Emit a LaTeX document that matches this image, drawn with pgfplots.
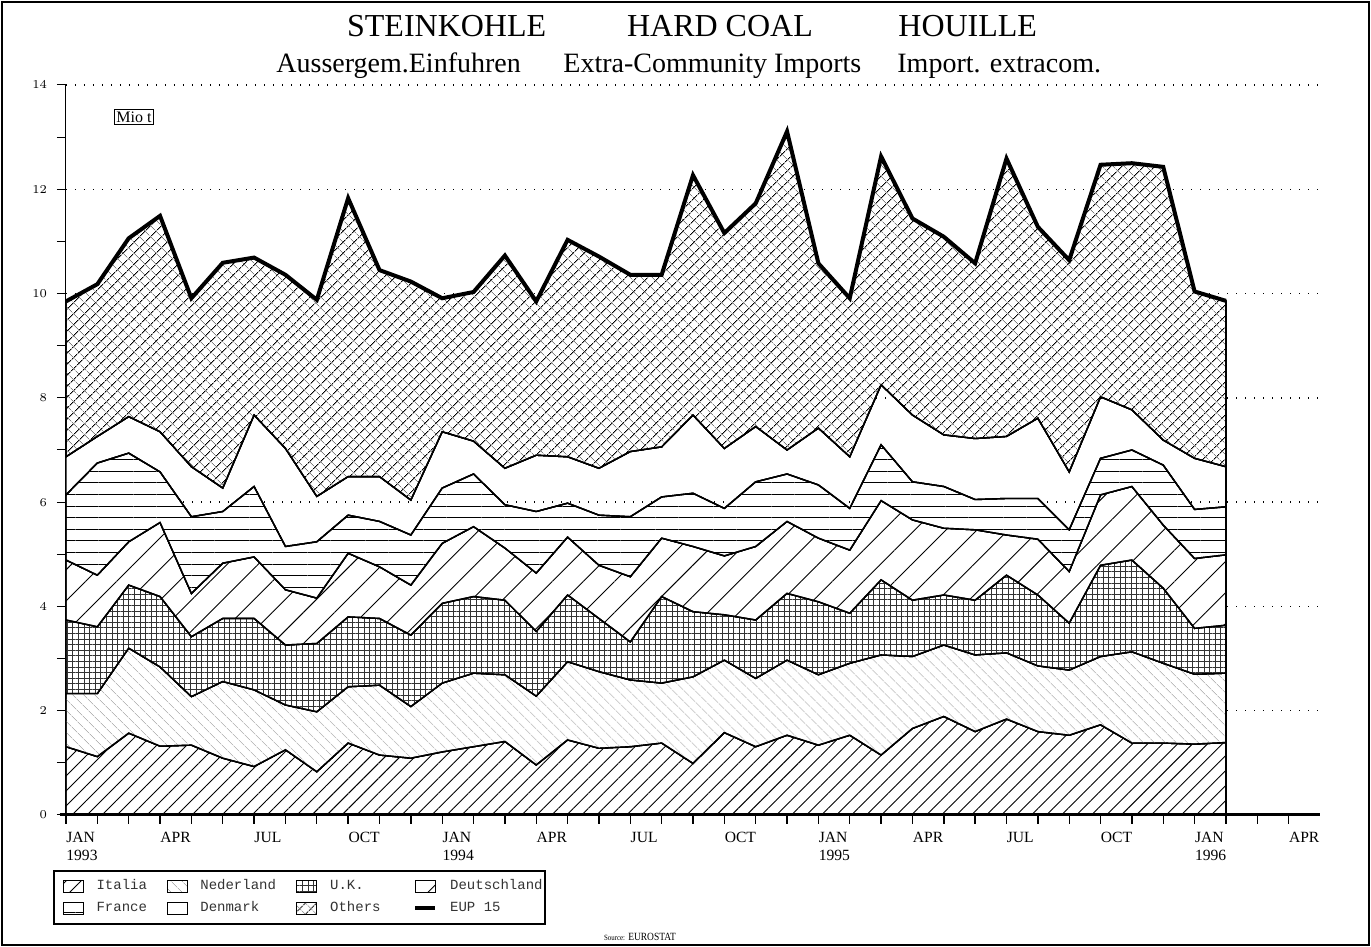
\documentclass[border=0pt]{standalone}
\usepackage{fontspec}
\setmainfont{Liberation Serif}
\newfontfamily\condserif[FakeStretch=0.86]{Liberation Serif}
\newfontfamily\legfont{Liberation Mono}
\usepackage{pgfplots}
\pgfplotsset{compat=1.18}
\usepackage{pgfplotstable}
\usetikzlibrary{patterns.meta}

% monthly values, Jan 1993 (0) ... Feb 1996 (37), Mio t
\pgfplotstableread{
x ita ned uk de fr dk oth tot
0 1.31 1.02 1.41 1.15 1.25 0.73 2.98 9.85
1 1.12 1.21 1.28 0.99 2.15 0.51 2.92 10.18
2 1.57 1.63 1.21 0.83 1.70 0.70 3.42 11.06
3 1.32 1.52 1.35 1.42 0.97 0.77 4.14 11.49
4 1.34 0.93 1.15 0.83 1.47 0.96 3.23 9.91
5 1.09 1.47 1.21 1.06 0.99 0.45 4.32 10.59
6 0.93 1.47 1.37 1.18 1.35 1.37 3.02 10.69
7 1.25 0.86 1.15 1.06 0.83 1.88 3.33 10.36
8 0.83 1.15 1.31 0.87 1.08 0.87 3.77 9.88
9 1.38 1.08 1.34 1.22 0.73 0.74 5.34 11.83
10 1.15 1.34 1.28 0.99 0.87 0.86 3.96 10.45
11 1.09 0.99 1.37 0.96 0.96 0.67 4.19 10.23
12 1.21 1.32 1.53 1.15 1.06 1.08 2.56 9.91
13 1.31 1.41 1.47 1.34 1.01 0.63 2.86 10.03
14 1.41 1.28 1.43 1.00 0.83 0.70 4.08 10.73
15 0.96 1.32 1.24 1.12 1.18 1.08 2.95 9.85
16 1.44 1.50 1.28 1.11 0.65 0.89 4.16 11.03
17 1.28 1.47 1.02 1.02 0.96 0.90 4.06 10.71
18 1.31 1.28 0.73 1.25 1.15 1.25 3.39 10.36
19 1.38 1.15 1.66 1.12 0.79 0.96 3.30 10.36
20 0.99 1.66 1.25 1.25 1.02 1.50 4.60 12.27
21 1.58 1.39 0.87 1.13 0.91 1.15 4.13 11.16
22 1.31 1.31 1.12 1.41 1.24 1.06 4.28 11.73
23 1.53 1.44 1.28 1.38 0.91 0.46 6.11 13.11
24 1.34 1.35 1.40 1.22 1.02 1.09 3.16 10.58
25 1.53 1.38 0.96 1.21 0.80 0.99 3.04 9.91
26 1.15 1.92 1.44 1.52 1.07 1.15 4.38 12.63
27 1.66 1.38 1.08 1.54 0.73 1.28 3.77 11.44
28 1.89 1.37 0.96 1.28 0.80 0.99 3.80 11.09
29 1.60 1.47 1.05 1.35 0.58 1.17 3.36 10.58
30 1.84 1.27 1.49 0.77 0.70 1.19 5.33 12.59
31 1.60 1.26 1.36 1.07 0.78 1.54 3.67 11.28
32 1.53 1.25 0.90 0.99 0.80 1.11 4.06 10.64
33 1.73 1.31 1.75 1.35 0.70 1.18 4.45 12.47
34 1.38 1.75 1.76 1.41 0.70 0.77 4.73 12.50
35 1.38 1.53 1.44 1.21 1.15 0.48 5.24 12.43
36 1.36 1.34 0.88 1.34 0.94 0.98 3.20 10.04
37 1.39 1.33 0.92 1.35 0.92 0.77 3.18 9.86
}\coal

\begin{document}
\begin{tikzpicture}
\useasboundingbox (-33pt,-66pt) rectangle (652.5pt,407.5pt);
\draw[line width=0.8pt] (-32pt,-65pt) rectangle (651.5pt,406.5pt);
\begin{axis}[
  at={(0pt,0pt)}, anchor=south west,
  scale only axis, width=627pt, height=365pt,
  xmin=0, xmax=40, ymin=0, ymax=14,
  clip=false,
  stack plots=y, reverse stacked plots=false,
  axis x line*=bottom, axis y line*=left,
  axis line style={line width=0.5pt},
  xtick align=outside, ytick align=outside,
  major tick length=4.5pt, minor tick length=4.5pt,
  xtick style={black, line width=0.7pt},
  ytick style={black, line width=0.5pt},
  xtick={0,3,...,39},
  minor xtick={0,...,39},
  xticklabels={{JAN\\1993},APR,JUL,OCT,{JAN\\1994},APR,JUL,OCT,{JAN\\1995},APR,JUL,OCT,{JAN\\1996},APR},
  xticklabel style={align=left, anchor=north west, inner sep=0pt, font=\fontsize{7.8}{8.8}\selectfont, yshift=-4pt},
  ytick={0,2,...,14},
  minor ytick={1,3,...,13},
  yticklabel style={font=\fontsize{6}{6}\selectfont, xshift=-1.5pt},
  ymajorgrids,
  major grid style={dash pattern=on 0.7pt off 3.8pt, line width=0.7pt, black},
  legend columns=4,
  legend image code/.code={\draw[#1, draw=black, line width=0.4pt] (0pt,-3pt) rectangle (10pt,3pt);},
  legend style={at={(-0.01037,-0.07534)}, anchor=north west, draw=black, line width=0.8pt,
    inner xsep=4.5pt, inner ysep=4.5pt, column sep=0pt, row sep=4.5pt,
    font=\legfont\fontsize{7}{7}\selectfont, text=black!80,
    nodes={inner sep=0pt, text height=5pt, text depth=1.5pt, anchor=west},
    /tikz/every odd column/.append style={column sep=6.5pt}},
]
\addplot[draw=black, line width=0.7pt, fill=white,
  postaction={pattern={Lines[angle=45,distance=5.3pt,line width=0.45pt]}, pattern color=black}]
  table[x=x,y=ita] {\coal} \closedcycle;
\addlegendentry{\makebox[35pt][l]{Italia}}
\addplot[draw=black, line width=0.7pt, fill=white,
  postaction={pattern={Lines[angle=-45,distance=4pt,line width=0.35pt]}, pattern color=black!30}]
  table[x=x,y=ned] {\coal} \closedcycle;
\addlegendentry{\makebox[48pt][l]{Nederland}}
\addplot[draw=black, line width=0.7pt, fill=white,
  postaction={pattern={Hatch[angle=0,distance=2.8pt,line width=0.35pt]}, pattern color=black!80}]
  table[x=x,y=uk] {\coal} \closedcycle;
\addlegendentry{\makebox[41.5pt][l]{U.K.}}
\addplot[draw=black, line width=0.7pt, fill=white,
  postaction={pattern={Lines[angle=45,distance=11pt,line width=0.45pt]}, pattern color=black}]
  table[x=x,y=de] {\coal} \closedcycle;
\addlegendentry{\makebox[43pt][l]{Deutschland}}
\addplot[draw=black, line width=0.7pt, fill=white,
  postaction={pattern={Lines[angle=0,distance=5.8pt,line width=0.5pt]}, pattern color=black}]
  table[x=x,y=fr] {\coal} \closedcycle;
\addlegendentry{\makebox[35pt][l]{France}}
\addplot[draw=black, line width=0.7pt, fill=none]
  table[x=x,y=dk] {\coal} \closedcycle;
\addlegendentry{\makebox[48pt][l]{Denmark}}
\addplot[draw=black, line width=0.7pt, fill=white,
  postaction={pattern={Lines[angle=45,distance=4pt,line width=0.45pt]}, pattern color=black},
  postaction={pattern={Lines[angle=-45,distance=4pt,line width=0.35pt]}, pattern color=black!50}]
  table[x=x,y=oth] {\coal} \closedcycle;
\addlegendentry{\makebox[41.5pt][l]{Others}}
\addplot[stack plots=false, black, line width=2pt, line join=miter,
  legend image code/.code={\draw[line width=2pt] (0pt,0pt) -- (10pt,0pt);}]
  table[x=x,y=tot] {\coal};
\addlegendentry{\makebox[43pt][l]{EUP 15}}
\draw[black, line width=1pt] (axis cs:37,0) -- (axis cs:37,9.86);
\draw[black, line width=0.5pt] (axis cs:0,0) -- (axis cs:0,14);
\draw[black, line width=1.5pt] (axis cs:-0.2,0) -- (axis cs:40,0);
\end{axis}
\begin{scope}[every node/.style={inner sep=0pt, anchor=base west}]
\node[font=\fontsize{16}{16}\selectfont] at (140.35pt,389.2pt) {STEINKOHLE};
\node[font=\fontsize{16}{16}\selectfont] at (280.35pt,389.2pt) {HARD COAL};
\node[font=\fontsize{16}{16}\selectfont] at (416pt,389.2pt) {HOUILLE};
\node[font=\fontsize{14}{14}\selectfont] at (105pt,371.2pt) {Aussergem.Einfuhren};
\node[font=\fontsize{14}{14}\selectfont] at (248.5pt,371.2pt) {Extra-Community Imports};
\node[font=\fontsize{14}{14}\selectfont] at (415.5pt,371.2pt) {Import. extracom.};
\end{scope}
\node[draw, line width=0.5pt, inner xsep=1.2pt, inner ysep=1pt, font=\fontsize{8}{8}\selectfont] at (34pt,349pt) {Mio t};
\node[anchor=base, font=\condserif\fontsize{5.5}{5.5}\selectfont] at (287pt,-63pt) {{\fontsize{4}{4}\selectfont Source:} EUROSTAT};
\end{tikzpicture}
\end{document}
